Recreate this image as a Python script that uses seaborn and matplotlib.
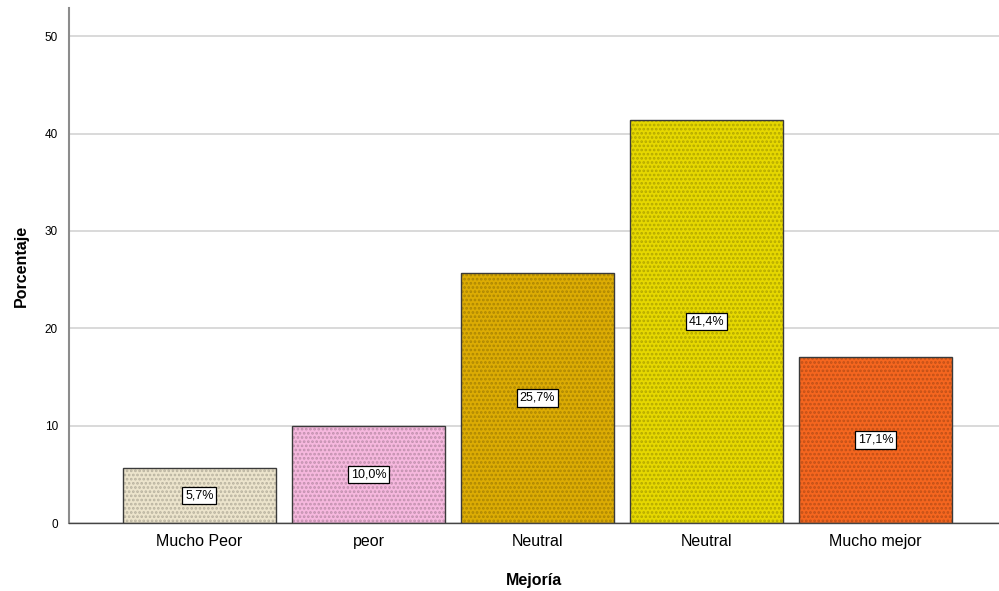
import pandas as pd
import matplotlib
matplotlib.use("Agg")
import matplotlib.pyplot as plt
import matplotlib.colors as mcolors
import seaborn as sns

# datos
categorias = ["Mucho Peor", "peor", "Neutral", "Neutral", "Mucho mejor"]
porcentajes = [5.7, 10.0, 25.7, 41.4, 17.1]
etiquetas = ["5,7%", "10,0%", "25,7%", "41,4%", "17,1%"]
colores = ["#ece4cc", "#f6b8de", "#dcac04", "#e6d800", "#f5661f"]

sns.set_style("white")
plt.rcParams['font.family'] = ['Liberation Sans', 'DejaVu Sans']
plt.rcParams['text.color'] = 'black'
plt.rcParams['axes.labelcolor'] = 'black'
plt.rcParams['xtick.color'] = 'black'
plt.rcParams['ytick.color'] = 'black'
plt.rcParams['hatch.linewidth'] = 1.3

# categorias repetidas ("Neutral"), asi que usamos una posicion como clave
df = pd.DataFrame({"pos": list(range(len(categorias))), "pct": porcentajes})

fig = plt.figure(figsize=(9.99, 5.91), dpi=100)
ax = fig.add_axes([0.069, 0.115, 0.931, 0.8715])

sns.barplot(data=df, x="pos", y="pct", hue="pos", palette=colores,
            legend=False, width=0.905, ax=ax, linewidth=0, saturation=1)
for p, c in zip(ax.patches, colores):
    oscuro = tuple(v * 0.78 for v in mcolors.to_rgb(c))
    p.set_hatch("....")
    p.set_edgecolor(oscuro)
    p.set_linewidth(0)
# contorno
sns.barplot(data=df, x="pos", y="pct", fill=False, color="#3a3a3a",
            width=0.905, ax=ax, linewidth=1.0, saturation=1)

for i, (v, t) in enumerate(zip(porcentajes, etiquetas)):
    ax.text(i, v / 2, t, ha="center", va="center", fontsize=9,
            bbox=dict(boxstyle="square,pad=0.22", fc="white", ec="black", lw=0.9))

ax.set_xlim(-0.772, 4.73)
ax.set_ylim(0, 52.9)
ax.set_yticks([0, 10, 20, 30, 40, 50])
ax.set_xticks(range(len(categorias)))
ax.set_xticklabels(categorias, fontsize=11.5)
ax.tick_params(axis="y", labelsize=8.5, length=0, pad=8)
ax.tick_params(axis="x", length=0, pad=8)
ax.yaxis.grid(True, color="#d0d0d0", lw=1.1)
ax.set_axisbelow(True)

ax.set_xlabel("Mejoría", fontsize=11.5, fontweight="bold", labelpad=17)
ax.set_ylabel("Porcentaje", fontsize=11.5, fontweight="bold", labelpad=11)

for s in ["top", "right"]:
    ax.spines[s].set_visible(False)
ax.spines["left"].set_color("#8c8c8c")
ax.spines["left"].set_linewidth(1.5)
ax.spines["bottom"].set_color("#444444")
ax.spines["bottom"].set_linewidth(1.0)

fig.savefig("out.png", dpi=100)
